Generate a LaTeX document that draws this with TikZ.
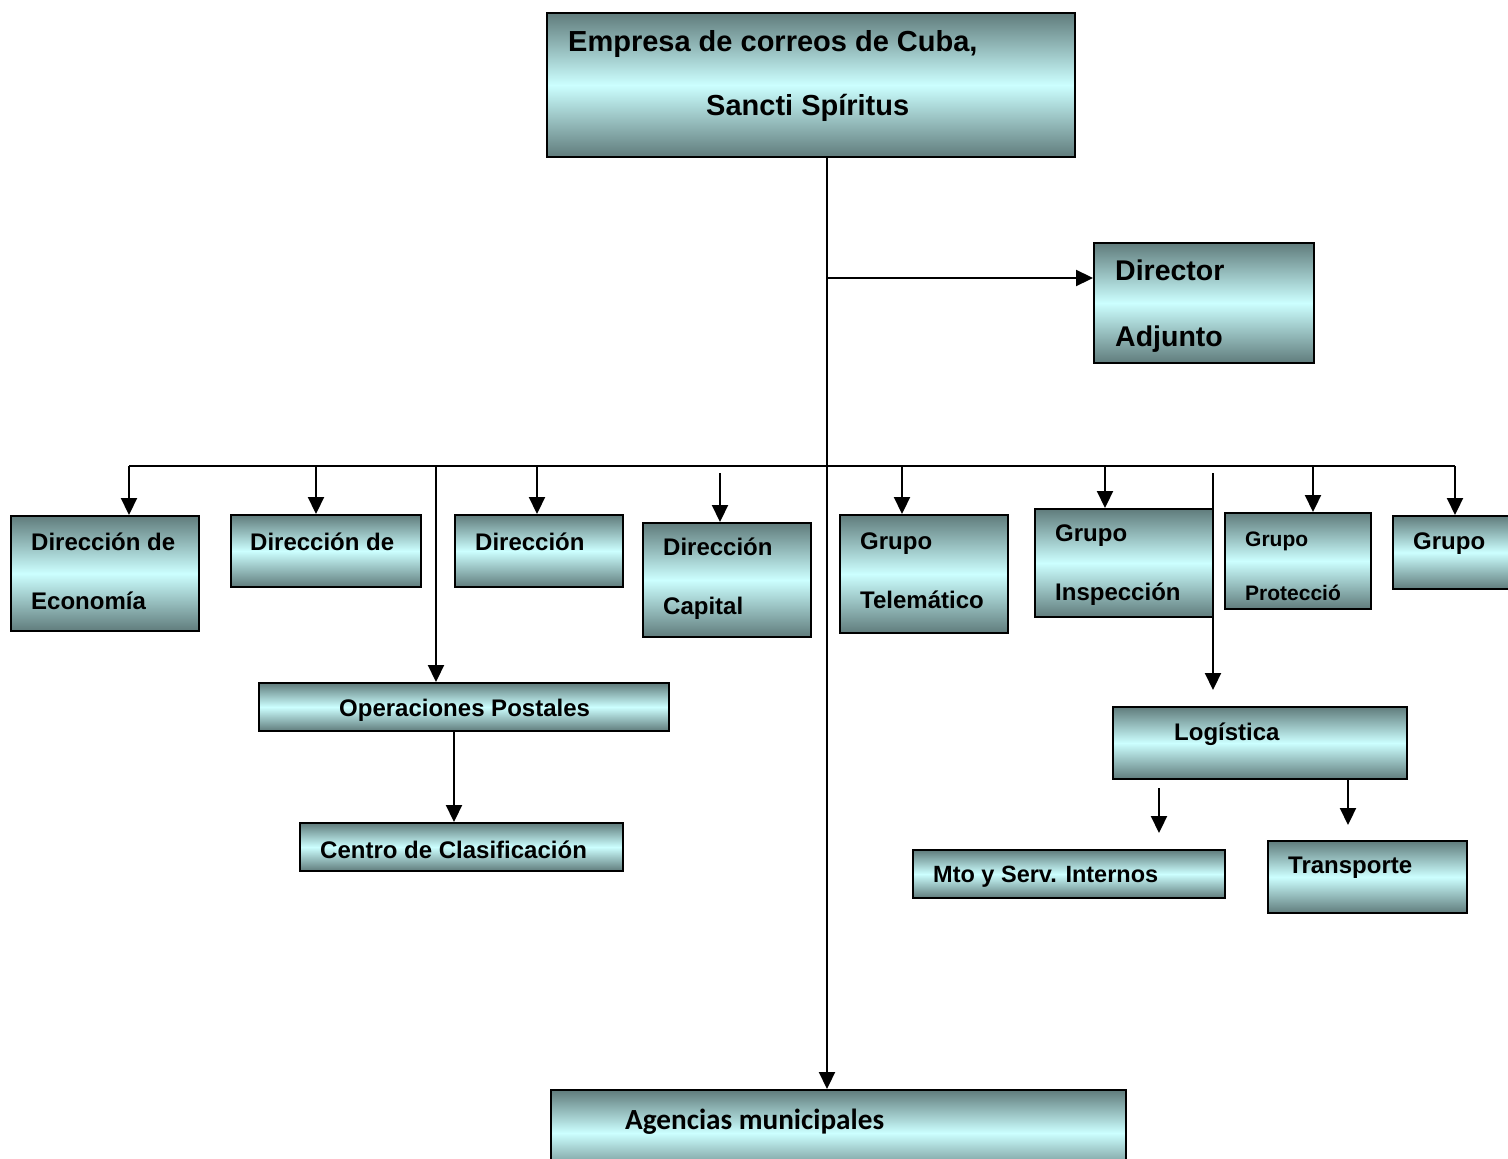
\documentclass[tikz,border=0pt]{standalone}
\usepackage{fontspec}
\setmainfont{Liberation Sans}
\newfontfamily\calibri{Carlito}
\usetikzlibrary{arrows.meta}
\definecolor{oscuro}{RGB}{96,124,124}
\definecolor{claro}{RGB}{204,255,255}
\tikzset{
  caja/.style={draw, line width=2pt, rectangle, inner sep=0pt, anchor=north west,
    top color=oscuro, bottom color=oscuro, middle color=claro},
  texto/.style={anchor=west, inner sep=0pt, align=left, yshift=-3pt,
    font=\bfseries\fontsize{24}{59}\selectfont},
  linea/.style={line width=2.2pt},
  flecha/.style={line width=2.2pt, -{Triangle[length=17pt,width=16pt]}}
}
\begin{document}
\begin{tikzpicture}[x=1pt,y=-1pt]
\useasboundingbox (0,0) rectangle (1508,1159);
% cajas
\node[caja, minimum width=528pt, minimum height=144pt] (emp) at (546,12) {};
\node[caja, minimum width=220pt, minimum height=120pt] (dir) at (1093,242) {};
\node[caja, minimum width=188pt, minimum height=115pt] (eco) at (10,515) {};
\node[caja, minimum width=190pt, minimum height=72pt] (dd) at (230,514) {};
\node[caja, minimum width=168pt, minimum height=72pt] (d3) at (454,514) {};
\node[caja, minimum width=168pt, minimum height=114pt] (cap) at (642,522) {};
\node[caja, minimum width=168pt, minimum height=118pt] (tel) at (839,514) {};
\node[caja, minimum width=178pt, minimum height=108pt] (ins) at (1034,508) {};
\node[caja, minimum width=146pt, minimum height=96pt] (pro) at (1224,512) {};
\node[caja, minimum width=138pt, minimum height=73pt] (gru) at (1392,515) {};
\node[caja, minimum width=410pt, minimum height=48pt] (ops) at (258,682) {};
\node[caja, minimum width=323pt, minimum height=48pt] (cla) at (299,822) {};
\node[caja, minimum width=294pt, minimum height=72pt] (log) at (1112,706) {};
\node[caja, minimum width=312pt, minimum height=48pt] (mto) at (912,849) {};
\node[caja, minimum width=199pt, minimum height=72pt] (tra) at (1267,840) {};
\node[caja, minimum width=575pt, minimum height=86pt] (agn) at (550,1089) {};
% textos
\node[texto, font=\bfseries\fontsize{29}{64}\selectfont] (emp-a) at (568,41) {Empresa de correos de Cuba,};
\node[texto, font=\bfseries\fontsize{29}{64}\selectfont] (emp-b) at (706,105) {Sancti Spíritus};
\node[texto, font=\bfseries\fontsize{28.5}{66}\selectfont] (dir-t) at (1115,303) {Director\\Adjunto};
\node[texto] (eco-t) at (31,568) {Dirección de\\Economía};
\node[texto] (dd-t) at (250,539) {Dirección de};
\node[texto] (d3-t) at (475,539) {Dirección};
\node[texto] (cap-t) at (663,576) {Dirección\\Capital};
\node[texto] (tel-t) at (860,568) {Grupo\\Telemático};
\node[texto] (ins-t) at (1055,562) {Grupo\\Inspección};
\node[texto, font=\bfseries\fontsize{21}{54}\selectfont] (pro-t) at (1245,563) {Grupo\\Protecció};
\node[texto] (gru-t) at (1413,541) {Grupo};
\node[texto, font=\bfseries\fontsize{24}{30}\selectfont] (ops-t) at (339,707) {Operaciones Postales};
\node[texto] (cla-t) at (320,847) {Centro de Clasificación};
\node[texto] (log-t) at (1174,731) {Logística};
\node[texto, font=\bfseries\fontsize{23.5}{28}\selectfont] (mto-t) at (933,874) {Mto y Serv. Internos};
\node[texto] (tra-t) at (1288,865) {Transporte};
\node[texto, font=\calibri\bfseries\fontsize{29.2}{35}\selectfont] (agn-t) at (625,1119) {Agencias municipales};
% conectores
\coordinate (jn) at (827,278);
\coordinate (busL) at (129,466);
\coordinate (busR) at (1455,466);
\draw[flecha] (emp.south -| jn) -- (jn |- agn.north);
\draw[flecha] (jn) -- (jn -| dir.west);
\draw[linea] (busL) -- (busR);
\draw[flecha] (busL) -- (busL |- eco.north);
\foreach \x/\n in {316/dd, 537/d3, 902/tel, 1105/ins, 1313/pro, 1455/gru}
  \draw[flecha] (\x,466) -- (\x,466 |- \n.north);
\draw[flecha] (436,466) -- (436,466 |- ops.north);
\draw[flecha] (720,473) -- (720,473 |- cap.north);
\draw[flecha, shorten >=16pt] (1213,473) -- (1213,473 |- log.north);
\draw[flecha] (ops.south -| 454,0) -- (454,0 |- cla.north);
\draw[flecha, shorten <=8pt, shorten >=16pt] (log.south -| 1159,0) -- (1159,0 |- mto.north);
\draw[flecha, shorten >=15pt] (log.south -| 1348,0) -- (1348,0 |- tra.north);
\end{tikzpicture}
\end{document}
